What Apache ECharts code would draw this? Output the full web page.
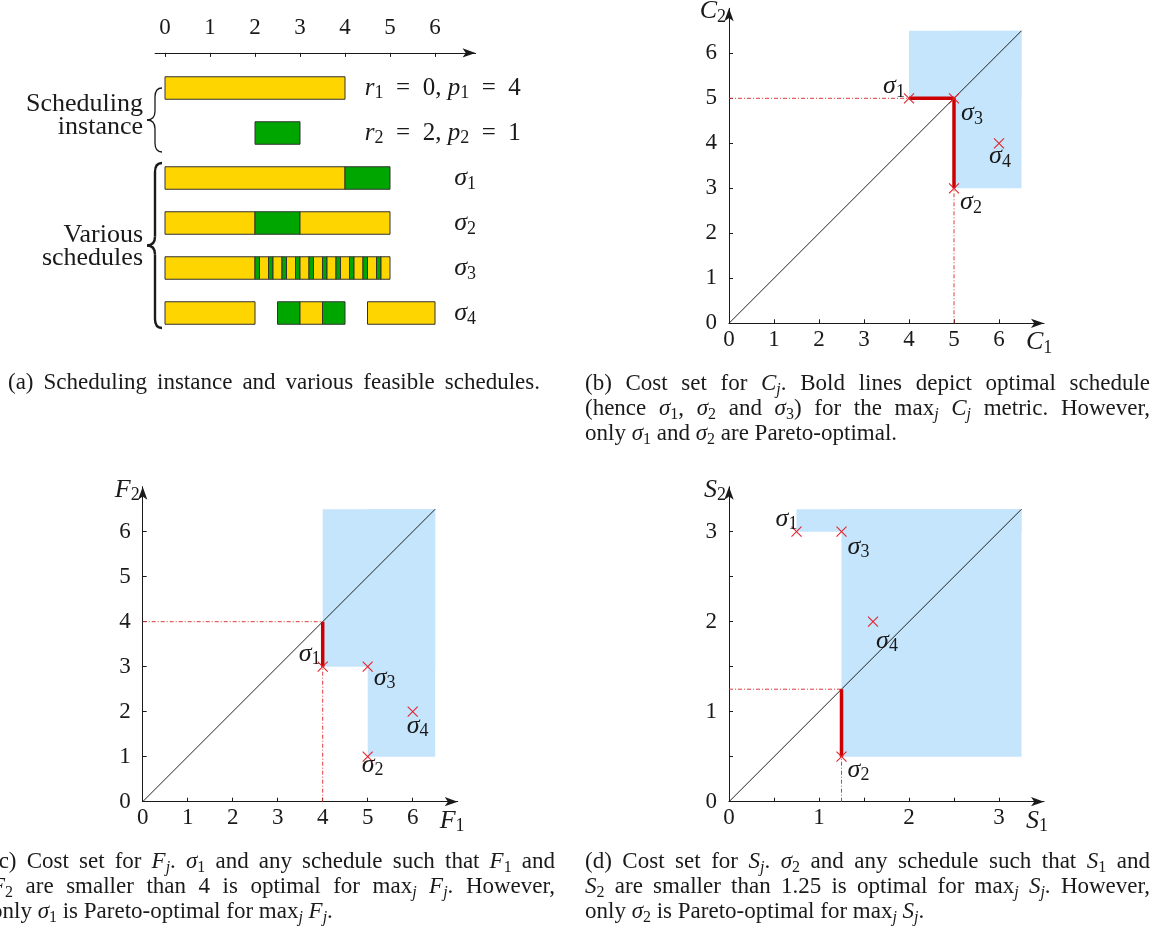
<!DOCTYPE html>
<html><head><meta charset="utf-8"><title>Scheduling instance and cost sets</title>
<script src="https://cdn.jsdelivr.net/npm/echarts@6.0.0/dist/echarts.min.js"></script>
<style>html,body{margin:0;padding:0;background:#fff;overflow:hidden}#chart{width:1158px;height:930px}</style>
</head><body><div id="chart"></div>
<script>
// ================= DATA =================
const ganttTicks = [0, 1, 2, 3, 4, 5, 6];
const releaseTimes = [0, 2];
const processingTimes = [4, 1];
// segments: [start, end, job]
const instanceJob1 = [[0, 4, 1]];
const instanceJob2 = [[2, 3, 2]];
const scheduleSigma1 = [[0, 4, 1], [4, 5, 2]];
const scheduleSigma2 = [[0, 2, 1], [2, 3, 2], [3, 5, 1]];
const scheduleSigma3 = [[0, 2, 1], [2, 2.1, 2], [2.1, 2.3, 1], [2.3, 2.4, 2], [2.4, 2.6, 1], [2.6, 2.7, 2], [2.7, 2.9, 1], [2.9, 3, 2], [3, 3.2, 1], [3.2, 3.3, 2], [3.3, 3.5, 1], [3.5, 3.6, 2], [3.6, 3.8, 1], [3.8, 3.9, 2], [3.9, 4.1, 1], [4.1, 4.2, 2], [4.2, 4.4, 1], [4.4, 4.5, 2], [4.5, 4.7, 1], [4.7, 4.8, 2], [4.8, 5, 1]];
const scheduleSigma4 = [[0, 2, 1], [2.5, 3, 2], [3, 3.5, 1], [3.5, 4, 2], [4.5, 6, 1]];
const scheduleNames = ['σ1', 'σ2', 'σ3', 'σ4'];

// cost points, in order σ1..σ4
const costC = [[4, 5], [5, 3], [5, 5], [6, 4]];
const costF = [[4, 3], [5, 1], [5, 3], [6, 2]];
const costS = [[0.75, 3], [1.25, 0.5], [1.25, 3], [1.6, 2]];
// dominated regions [x1, y1, x2, y2]
const regionC = [[4, 5, 6.5, 6.5], [5, 3, 6.5, 6.5]];
const regionF = [[4, 3, 6.5, 6.5], [5, 1, 6.5, 6.5]];
const regionS = [[0.75, 3, 3.25, 3.25], [1.25, 0.5, 3.25, 3.25]];
const diagC = [[0, 0], [6.5, 6.5]];
const diagF = [[0, 0], [6.5, 6.5]];
const diagS = [[0, 0], [3.25, 3.25]];
const optimalC = [[4, 5], [5, 5], [5, 3]];
const optimalF = [[4, 4], [4, 3]];
const optimalS = [[1.25, 1.25], [1.25, 0.5]];
const guideC = [[0, 5, 4, 5], [5, 0, 5, 3]];
const guideF = [[0, 4, 4, 4], [4, 0, 4, 3]];
const guideS = [[0, 1.25, 1.25, 1.25], [1.25, 0, 1.25, 0.5]];
const ticksCF = [0, 1, 2, 3, 4, 5, 6];
const ticksS = [0, 0.5, 1, 1.5, 2, 2.5, 3];
const labelsS = [0, 1, 2, 3];

// ================= STYLE / LAYOUT =================
const FONT = "'Liberation Serif', 'DejaVu Serif', serif";
const INK = '#1a1a1a';
const YEL = '#FFD500';
const GRN = '#00A600';
const BLUE = '#C4E5FC';
const BOLD_RED = '#CC0000';
const CROSS_RED = '#E3222A';
const GUIDE_RED = '#E03A3A';
const CAP_FS = 23;
const SIG_FS = 26;
const labelOffC = [[-15, -12], [17, 14], [18, 15], [1, 13]];
const labelOffF = [[-13, -13], [5, 8], [17, 11], [5, 14]];
const labelOffS = [[-10, -13], [17, 13], [17, 15], [14, 19]];

function richStyles(fs) {
  const sub = Math.round(fs * 0.7), subLH = Math.round(fs * 0.67), lh = fs + 4;
  const base = { fontFamily: FONT, fill: INK, color: INK };
  return {
    i: Object.assign({}, base, { fontStyle: 'italic', fontSize: fs, lineHeight: lh, verticalAlign: 'middle' }),
    r: Object.assign({}, base, { fontSize: fs, lineHeight: lh, verticalAlign: 'middle' }),
    s: Object.assign({}, base, { fontSize: sub, lineHeight: subLH, verticalAlign: 'bottom' }),
    si: Object.assign({}, base, { fontStyle: 'italic', fontSize: sub, lineHeight: subLH, verticalAlign: 'bottom' })
  };
}
function mathName(n) { return '{i|' + n[0] + '}{s|' + n.slice(1) + '}'; }
function textEl(str, x, y, fs, align) {
  return { type: 'text', x: x, y: y, silent: true, z: 10,
    style: { text: str, rich: richStyles(fs), fontFamily: FONT, fontSize: fs, lineHeight: fs + 4,
      fill: INK, align: align || 'left', verticalAlign: 'middle' } };
}
const mctx = document.createElement('canvas').getContext('2d');
function tokenize(str) {
  const re = /\{(\w+)\|([^}]*)\}/g; const out = []; let last = 0, m;
  while ((m = re.exec(str))) { if (m.index > last) out.push(['r', str.slice(last, m.index)]); out.push([m[1], m[2]]); last = re.lastIndex; }
  if (last < str.length) out.push(['r', str.slice(last)]);
  return out;
}
function measure(str, fs) {
  let w = 0;
  tokenize(str).forEach(function (t) {
    const small = (t[0] === 's' || t[0] === 'si');
    const f = small ? Math.round(fs * 0.7) : fs;
    mctx.font = ((t[0] === 'i' || t[0] === 'si') ? 'italic ' : '') + f + 'px ' + FONT;
    w += mctx.measureText(t[1]).width;
  });
  return w;
}
function captionBlock(lines, x, y0, dy, width, nJustify) {
  const out = [];
  lines.forEach(function (ln, k) {
    const y = y0 + k * dy;
    if (k < nJustify) {
      const words = ln.split(' ');
      const ws = words.map(function (w) { return measure(w, CAP_FS); });
      const total = ws.reduce(function (a, b) { return a + b; }, 0);
      const gap = (width - total) / (words.length - 1);
      let cx = x;
      words.forEach(function (w, i) { out.push(textEl(w, cx, y, CAP_FS)); cx += ws[i] + gap; });
    } else out.push(textEl(ln, x, y, CAP_FS));
  });
  return out;
}
function braceEls(xTip, xSpine, xEnd, y1, y2, lw) {
  const ym = (y1 + y2) / 2, r = Math.min(9, (y2 - y1) / 7);
  const st = { stroke: INK, fill: 'none', lineWidth: lw };
  return [
    { type: 'bezierCurve', silent: true, shape: { x1: xEnd, y1: y1, cpx1: xSpine, cpy1: y1, x2: xSpine, y2: y1 + r }, style: st },
    { type: 'line', silent: true, shape: { x1: xSpine, y1: y1 + r, x2: xSpine, y2: ym - r }, style: st },
    { type: 'bezierCurve', silent: true, shape: { x1: xSpine, y1: ym - r, cpx1: xSpine, cpy1: ym, x2: xTip, y2: ym }, style: st },
    { type: 'bezierCurve', silent: true, shape: { x1: xTip, y1: ym, cpx1: xSpine, cpy1: ym, x2: xSpine, y2: ym + r }, style: st },
    { type: 'line', silent: true, shape: { x1: xSpine, y1: ym + r, x2: xSpine, y2: y2 - r }, style: st },
    { type: 'bezierCurve', silent: true, shape: { x1: xSpine, y1: y2 - r, cpx1: xSpine, cpy1: y2, x2: xEnd, y2: y2 }, style: st }
  ];
}

// ================= GANTT =================
const ganttRows = [instanceJob1, instanceJob2, scheduleSigma1, scheduleSigma2, scheduleSigma3, scheduleSigma4];
const ganttItems = [];
ganttRows.forEach(function (row, r) { row.forEach(function (s) { ganttItems.push([s[0], s[1], r, s[2]]); }); });
const EQ = '\u2002=\u2002';
const rowLabelTexts = [
  '{i|r}{s|1}' + EQ + releaseTimes[0] + ', {i|p}{s|1}' + EQ + processingTimes[0],
  '{i|r}{s|2}' + EQ + releaseTimes[1] + ', {i|p}{s|2}' + EQ + processingTimes[1]
].concat(scheduleNames.map(mathName));
const rowLabelAnchor = [[4.44, 'left'], [4.44, 'left'], [6.67, 'center'], [6.67, 'center'], [6.67, 'center'], [6.67, 'center']];

function ganttRender(params, api) {
  const p0 = api.coord([api.value(0), api.value(2)]);
  const p1 = api.coord([api.value(1), api.value(2)]);
  const h = api.size([0, 1])[1] * 0.5;
  return { type: 'rect', shape: { x: p0[0], y: p0[1] - h / 2, width: p1[0] - p0[0], height: h },
    style: { fill: api.value(3) === 1 ? YEL : GRN, stroke: '#333', lineWidth: 1 } };
}
function rowLabelRender(params, api) {
  const i = params.dataIndex;
  const p = api.coord([rowLabelAnchor[i][0], api.value(0)]);
  const fs = i < 2 ? 25 : SIG_FS;
  return { type: 'text', x: p[0], y: p[1], style: { text: rowLabelTexts[i], rich: richStyles(fs),
    fontFamily: FONT, fontSize: fs, lineHeight: fs + 4, fill: INK, align: rowLabelAnchor[i][1], verticalAlign: 'middle' } };
}

// ================= PANELS =================
function panelAxes(g, max, tickVals, labelVals, nameX, nameY) {
  const common = {
    gridIndex: g, type: 'value', min: 0, max: max,
    axisLine: { show: true, onZero: false, symbol: ['none', 'arrow'], symbolSize: [7, 13], lineStyle: { color: INK, width: 1 } },
    axisTick: { show: true, inside: true, length: 4, customValues: tickVals, lineStyle: { color: INK, width: 1 } },
    splitLine: { show: false }
  };
  const x = Object.assign({}, common, {
    name: nameX, nameLocation: 'end', nameGap: -18,
    nameTextStyle: { align: 'left', verticalAlign: 'top', padding: [4, 0, 0, 0], rich: richStyles(SIG_FS) },
    axisLabel: { customValues: labelVals, margin: 5, fontFamily: FONT, fontSize: 23, color: INK }
  });
  const y = Object.assign({}, common, {
    name: nameY, nameLocation: 'end', nameGap: 12,
    nameTextStyle: { align: 'right', verticalAlign: 'top', padding: [0, 3, 0, 0], rich: richStyles(SIG_FS) },
    axisLabel: { customValues: labelVals, margin: 12, fontFamily: FONT, fontSize: 23, color: INK }
  });
  return { x: x, y: y };
}
function panelSeries(g, region, diag, guides, optimal, pts, offs) {
  return [
    { type: 'custom', xAxisIndex: g, yAxisIndex: g, z: 1, silent: true, data: region,
      encode: { x: [0, 2], y: [1, 3] },
      renderItem: function (params, api) {
        const a = api.coord([api.value(0), api.value(1)]), b = api.coord([api.value(2), api.value(3)]);
        return { type: 'rect', shape: { x: a[0], y: b[1], width: b[0] - a[0], height: a[1] - b[1] }, style: { fill: BLUE } };
      } },
    { type: 'line', xAxisIndex: g, yAxisIndex: g, z: 2, silent: true, data: diag, symbol: 'none',
      lineStyle: { color: '#222', width: 1 } },
    { type: 'custom', xAxisIndex: g, yAxisIndex: g, z: 3, silent: true, data: guides,
      encode: { x: [0, 2], y: [1, 3] },
      renderItem: function (params, api) {
        const a = api.coord([api.value(0), api.value(1)]), b = api.coord([api.value(2), api.value(3)]);
        return { type: 'line', shape: { x1: a[0], y1: a[1], x2: b[0], y2: b[1] },
          style: { stroke: GUIDE_RED, lineWidth: 1, lineDash: [4, 2, 1, 2] } };
      } },
    { type: 'line', xAxisIndex: g, yAxisIndex: g, z: 4, silent: true, data: optimal, symbol: 'none',
      lineStyle: { color: BOLD_RED, width: 3.5 } },
    { type: 'custom', xAxisIndex: g, yAxisIndex: g, z: 5, silent: true, data: pts,
      encode: { x: 0, y: 1 },
      renderItem: function (params, api) {
        const i = params.dataIndex;
        const p = api.coord([api.value(0), api.value(1)]);
        const r = 5, o = offs[i];
        return { type: 'group', children: [
          { type: 'line', shape: { x1: p[0] - r, y1: p[1] - r, x2: p[0] + r, y2: p[1] + r }, style: { stroke: CROSS_RED, lineWidth: 1.1 } },
          { type: 'line', shape: { x1: p[0] - r, y1: p[1] + r, x2: p[0] + r, y2: p[1] - r }, style: { stroke: CROSS_RED, lineWidth: 1.1 } },
          { type: 'text', x: p[0] + o[0], y: p[1] + o[1], style: { text: mathName(scheduleNames[i]), rich: richStyles(SIG_FS),
            fontFamily: FONT, fontSize: SIG_FS, lineHeight: SIG_FS + 4, fill: INK, align: 'center', verticalAlign: 'middle' } }
        ] };
      } }
  ];
}

const axB = panelAxes(1, 7, ticksCF, ticksCF, '{i|C}{s|1}', '{i|C}{s|2}');
const axC = panelAxes(2, 7, ticksCF, ticksCF, '{i|F}{s|1}', '{i|F}{s|2}');
const axD = panelAxes(3, 3.5, ticksS, labelsS, '{i|S}{s|1}', '{i|S}{s|2}');

// ================= CAPTIONS / ANNOTATIONS =================
const capA = ['(a) Scheduling instance and various feasible schedules.'];
const capB = ['(b) Cost set for {i|C}{si|j}. Bold lines depict optimal schedule',
  '(hence {i|σ}{s|1}, {i|σ}{s|2} and {i|σ}{s|3}) for the max{si|j} {i|C}{si|j} metric. However,',
  'only {i|σ}{s|1} and {i|σ}{s|2} are Pareto-optimal.'];
const capC = ['(c) Cost set for {i|F}{si|j}. {i|σ}{s|1} and any schedule such that {i|F}{s|1} and',
  '{i|F}{s|2} are smaller than 4 is optimal for max{si|j} {i|F}{si|j}. However,',
  'only {i|σ}{s|1} is Pareto-optimal for max{si|j} {i|F}{si|j}.'];
const capD = ['(d) Cost set for {i|S}{si|j}. {i|σ}{s|2} and any schedule such that {i|S}{s|1} and',
  '{i|S}{s|2} are smaller than 1.25 is optimal for max{si|j} {i|S}{si|j}. However,',
  'only {i|σ}{s|2} is Pareto-optimal for max{si|j} {i|S}{si|j}.'];

const graphics = []
  .concat(captionBlock(capA, 8, 383, 25, 532, 1))
  .concat(captionBlock(capB, 585, 384, 25, 565, 2))
  .concat(captionBlock(capC, -9, 862, 25, 564, 2))
  .concat(captionBlock(capD, 585, 862, 25, 565, 2))
  .concat([
    textEl('Scheduling', 143, 104, 26, 'right'),
    textEl('instance', 143, 127, 26, 'right'),
    textEl('Various', 143, 235, 26, 'right'),
    textEl('schedules', 143, 258, 26, 'right')
  ])
  .concat(braceEls(147, 155, 162, 88, 152, 1.3))
  .concat(braceEls(147, 155, 162, 163, 328, 2.4));

// ================= OPTION =================
const option = {
  animation: false,
  backgroundColor: '#fff',
  grid: [
    { left: 155.1, top: 52.9, width: 320.4, height: 296.1, containLabel: false, outerBoundsMode: 'none' },
    { left: 729, top: 8.3, width: 315, height: 315, containLabel: false, outerBoundsMode: 'none' },
    { left: 142.7, top: 486.7, width: 315, height: 315, containLabel: false, outerBoundsMode: 'none' },
    { left: 729, top: 486.7, width: 315, height: 315, containLabel: false, outerBoundsMode: 'none' }
  ],
  xAxis: [
    { gridIndex: 0, type: 'value', position: 'top', min: -0.22, max: 6.9,
      axisLine: { show: true, onZero: false, symbol: ['none', 'arrow'], symbolSize: [7, 13], lineStyle: { color: INK, width: 1 } },
      axisTick: { show: true, inside: true, length: 4, customValues: ganttTicks, lineStyle: { color: INK } },
      axisLabel: { customValues: ganttTicks, margin: 13, fontFamily: FONT, fontSize: 23, color: INK },
      splitLine: { show: false } },
    axB.x, axC.x, axD.x
  ],
  yAxis: [
    { gridIndex: 0, type: 'value', inverse: true, min: -0.78, max: 5.8, show: false },
    axB.y, axC.y, axD.y
  ],
  graphic: graphics,
  series: [
    { type: 'custom', xAxisIndex: 0, yAxisIndex: 0, silent: true, data: ganttItems,
      encode: { x: [0, 1], y: 2 }, renderItem: ganttRender },
    { type: 'custom', xAxisIndex: 0, yAxisIndex: 0, silent: true,
      data: ganttRows.map(function (r, i) { return [i]; }), encode: { y: 0 }, renderItem: rowLabelRender }
  ].concat(panelSeries(1, regionC, diagC, guideC, optimalC, costC, labelOffC))
   .concat(panelSeries(2, regionF, diagF, guideF, optimalF, costF, labelOffF))
   .concat(panelSeries(3, regionS, diagS, guideS, optimalS, costS, labelOffS))
};

const chart = echarts.init(document.getElementById('chart'), null, { renderer: 'canvas' });
chart.setOption(option);
</script>
</body></html>
